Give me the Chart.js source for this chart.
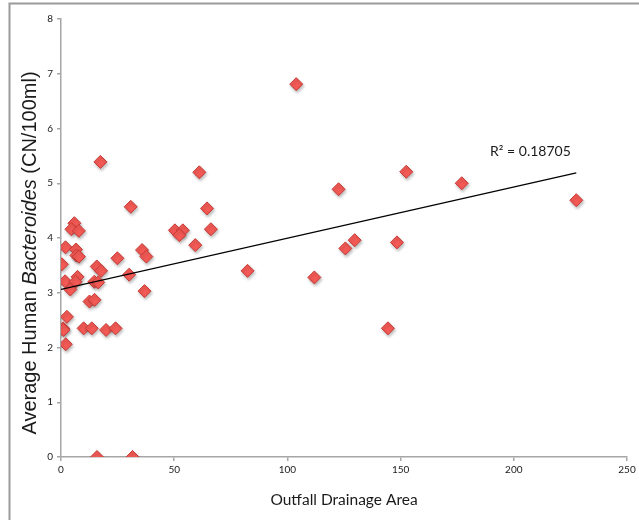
<!DOCTYPE html>
<html>
<head>
<meta charset="utf-8">
<script src="https://cdn.jsdelivr.net/npm/chart.js@4.4.1/dist/chart.umd.min.js"></script>
<style>
  html, body { margin: 0; padding: 0; background: #ffffff; }
  #wrap { width: 639px; height: 520px; position: relative; }
</style>
</head>
<body>
<div id="wrap"><canvas id="c" width="639" height="520"></canvas></div>
<script>
// ---- data ----
const drainageArea = [
  103.9, 17.4, 61.1, 152.5, 177.0, 122.6, 227.6, 30.8, 64.5, 50.3,
  53.8, 52.3, 66.2, 5.9, 4.6, 7.9, 2.0, 6.6, 6.8, 7.9,
  0.4, 15.8, 17.7, 24.9, 35.8, 37.7, 59.3, 1.8, 7.3, 6.4,
  4.1, 14.7, 16.4, 30.1, 36.9, 12.6, 14.8, 2.6, 0.9, 1.1,
  10.0, 13.6, 19.9, 24.1, 2.1, 15.9, 31.6, 82.4, 111.9, 125.6,
  129.7, 148.4, 144.4
];
const bacteroides = [
  6.81, 5.39, 5.20, 5.21, 5.00, 4.89, 4.69, 4.57, 4.54, 4.14,
  4.14, 4.05, 4.16, 4.27, 4.16, 4.13, 3.83, 3.79, 3.68, 3.66,
  3.52, 3.48, 3.40, 3.63, 3.78, 3.66, 3.87, 3.21, 3.29, 3.20,
  3.06, 3.20, 3.19, 3.33, 3.03, 2.84, 2.87, 2.56, 2.35, 2.32,
  2.35, 2.35, 2.32, 2.35, 2.06, 0.00, 0.00, 3.40, 3.28, 3.81,
  3.96, 3.92, 2.35
];
const trendX = [0, 227.6];
const trendY = [3.06, 5.19];
const xTicks = [0, 50, 100, 150, 200, 250];
const yTicks = [0, 1, 2, 3, 4, 5, 6, 7, 8];
const rSquaredLabel = "R\u00B2 = 0.18705";
const xTitle = "Outfall Drainage Area";
const yTitleParts = ["Average Human ", "Bacteroides", " (CN/100ml)"];

// ---- build chart ----
const points = drainageArea.map((x, i) => ({ x: x, y: bacteroides[i] }));
const trend = trendX.map((x, i) => ({ x: x, y: trendY[i] }));

const TXT = '#1a1a1a';
const AXIS = '#a6a6a6';
const FONT = "Lato, 'Open Sans', sans-serif";
const YFONT = "'Liberation Sans', Arial, sans-serif";

const framePlugin = {
  id: 'frame',
  beforeDraw(chart) {
    const ctx = chart.ctx;
    ctx.save();
    ctx.fillStyle = '#ffffff';
    ctx.fillRect(0, 0, chart.width, chart.height);
    ctx.strokeStyle = '#9a9a9a';
    ctx.lineWidth = 2;
    ctx.beginPath();
    ctx.moveTo(9.5, chart.height);
    ctx.lineTo(9.5, 3.5);
    ctx.lineTo(chart.width, 3.5);
    ctx.stroke();
    ctx.restore();
  },
  afterDraw(chart) {
    const ctx = chart.ctx;
    const xs = chart.scales.x, ys = chart.scales.y;
    ctx.save();
    // y-axis title with italic genus name
    ctx.fillStyle = TXT;
    ctx.textBaseline = 'middle';
    const fonts = ["20px " + YFONT, "italic 20px " + YFONT, "20px " + YFONT];
    let widths = yTitleParts.map((t, i) => { ctx.font = fonts[i]; return ctx.measureText(t).width; });
    const total = widths.reduce((a, b) => a + b, 0);
    ctx.translate(30, 253);
    ctx.rotate(-Math.PI / 2);
    let pos = -total / 2;
    yTitleParts.forEach((t, i) => {
      ctx.font = fonts[i];
      ctx.textAlign = 'left';
      ctx.fillText(t, pos, 0);
      pos += widths[i];
    });
    ctx.restore();

    // R^2 label
    ctx.save();
    ctx.fillStyle = TXT;
    ctx.font = "14px " + FONT;
    ctx.textAlign = 'left';
    ctx.textBaseline = 'middle';
    ctx.fillText(rSquaredLabel, xs.getPixelForValue(189.5), ys.getPixelForValue(5.58));
    ctx.restore();
  }
};

const shadowPlugin = {
  id: 'shadow',
  beforeDatasetDraw(chart, args) {
    if (args.index === 0) {
      const ctx = chart.ctx;
      ctx.save();
      ctx.shadowColor = 'rgba(0,0,0,0.25)';
      ctx.shadowBlur = 3;
      ctx.shadowOffsetX = 1;
      ctx.shadowOffsetY = 2;
    }
  },
  afterDatasetDraw(chart, args) {
    if (args.index === 0) chart.ctx.restore();
  }
};

new Chart(document.getElementById('c'), {
  type: 'scatter',
  data: {
    datasets: [
      {
        label: 'Samples',
        data: points,
        pointStyle: 'rectRot',
        pointRadius: 6.5,
        pointHoverRadius: 6.5,
        backgroundColor: '#f35a55',
        borderColor: '#c73a36',
        borderWidth: 1,
        order: 1
      },
      {
        label: 'Trend',
        type: 'line',
        data: trend,
        borderColor: '#000000',
        borderWidth: 1.2,
        pointRadius: 0,
        fill: false,
        order: 0
      }
    ]
  },
  plugins: [framePlugin, shadowPlugin],
  options: {
    responsive: false,
    animation: false,
    devicePixelRatio: 1,
    layout: { padding: { left: 11, right: 12, top: 19, bottom: 0 } },
    plugins: { legend: { display: false }, tooltip: { enabled: false } },
    scales: {
      x: {
        type: 'linear',
        min: 0, max: 250,
        afterBuildTicks(scale) { scale.ticks = xTicks.map(v => ({ value: v })); },
        afterFit(scale) { scale.height = 63; },
        ticks: { color: TXT, font: { size: 10, family: FONT }, padding: 3, maxRotation: 0 },
        grid: { drawOnChartArea: false, drawTicks: true, tickLength: 4, color: AXIS, lineWidth: 1.5 },
        border: { color: AXIS, width: 1.5 },
        title: { display: true, text: xTitle, color: TXT, font: { size: 15.5, family: FONT }, padding: { top: 0, bottom: 11 } }
      },
      y: {
        type: 'linear',
        min: 0, max: 8,
        afterBuildTicks(scale) { scale.ticks = yTicks.map(v => ({ value: v })); },
        afterFit(scale) { scale.width = 50; },
        ticks: { color: TXT, font: { size: 10, family: FONT }, padding: 4 },
        grid: { drawOnChartArea: false, drawTicks: true, tickLength: 4, color: AXIS, lineWidth: 1.5 },
        border: { color: AXIS, width: 1.5 }
      }
    }
  }
});
</script>
</body>
</html>
